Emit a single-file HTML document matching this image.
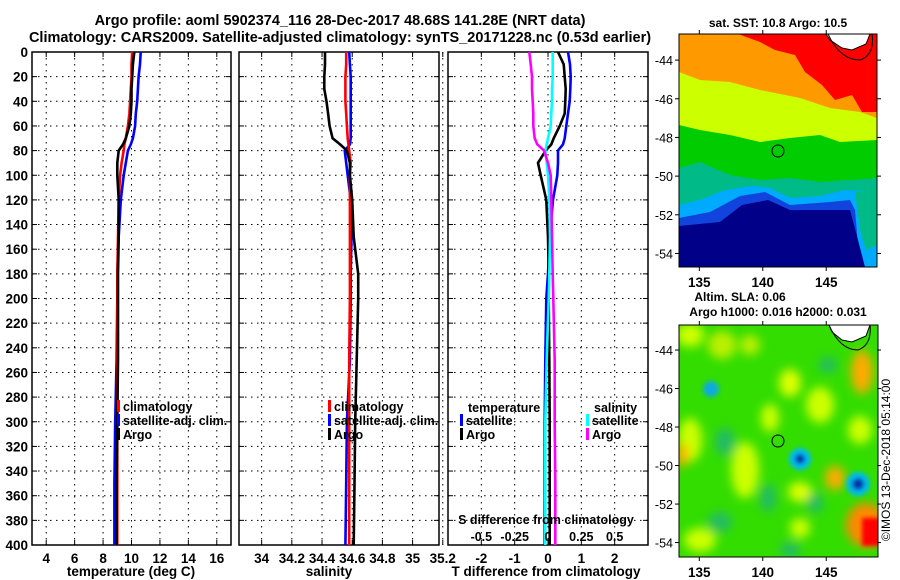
<!DOCTYPE html>
<html><head><meta charset="utf-8">
<style>
body{margin:0;background:#fff;}
svg{display:block;font-family:"Liberation Sans",sans-serif;font-weight:bold;}
</style></head>
<body>
<svg id="c" width="900" height="580" viewBox="0 0 900 580" xmlns="http://www.w3.org/2000/svg">
<defs>
<filter id="bl" x="-30%" y="-30%" width="160%" height="160%"><feGaussianBlur stdDeviation="5"/></filter>
<filter id="bl2"><feGaussianBlur stdDeviation="2"/></filter>
<clipPath id="m1c"><rect x="679" y="34" width="198" height="233"/></clipPath>
<clipPath id="m2c"><rect x="679" y="325" width="199" height="232"/></clipPath>
</defs>
<text x="340" y="25" font-size="14.5" text-anchor="middle">Argo profile: aoml 5902374_116 28-Dec-2017 48.68S 141.28E (NRT data)</text>
<text x="340" y="42" font-size="14.5" text-anchor="middle">Climatology: CARS2009. Satellite-adjusted climatology: synTS_20171228.nc (0.53d earlier)</text>

<g id="p1"></g>
<g id="p2"></g>
<g id="p3"></g>

<!-- SST map -->
<g>
<text x="778" y="27" font-size="12" text-anchor="middle">sat. SST: 10.8 Argo: 10.5</text>
<g clip-path="url(#m1c)">
<rect x="679" y="34" width="198" height="233" fill="#ff9900"/>
<polygon fill="#ff0000" points="738,34 877,34 877,112 862,112 852,95 835,100 822,85 805,72 795,55 775,50 760,42"/>
<polygon fill="#ccff00" points="679,72 700,80 730,82 760,90 800,98 830,108 860,112 877,118 877,267 679,267"/>
<polygon fill="#00cc00" points="679,125 700,130 730,135 760,142 790,138 820,135 840,142 877,140 877,267 679,267"/>
<polygon fill="#00bb88" points="679,168 700,162 730,175 760,180 790,178 820,182 850,180 877,178 877,267 679,267"/>
<polygon fill="#00aaff" points="679,205 700,200 725,190 752,186 770,188 790,198 820,196 845,190 877,192 877,267 679,267"/>
<polygon fill="#1144dd" points="679,218 710,212 740,196 765,192 790,205 830,202 850,200 855,210 860,267 679,267"/>
<polygon fill="#000088" points="679,226 720,222 742,205 768,200 790,210 830,210 850,210 858,240 865,267 679,267"/>
<polygon fill="#00bb88" points="855,192 877,190 877,245 866,250 860,230"/>
<polygon fill="#fff" stroke="#000" points="826,34 870,34 866,44 852,50 842,48 830,40"/>
<path d="M828,34 Q840,60 860,60 Q875,55 872,34" fill="none" stroke="#000" stroke-width="1"/>
</g>
<rect x="679" y="34" width="198" height="233" fill="none" stroke="#000"/>
<circle cx="778" cy="151" r="6" fill="none" stroke="#000"/>
</g>

<!-- SLA map -->
<g>
<text x="740" y="301" font-size="12" text-anchor="middle">Altim. SLA: 0.06</text>
<text x="778" y="316" font-size="12" text-anchor="middle">Argo h1000: 0.016 h2000: 0.031</text>
<g clip-path="url(#m2c)">
<rect x="679" y="325" width="199" height="232" fill="#33dd00"/>
<g filter="url(#bl)">
<ellipse cx="690" cy="335" rx="14" ry="12" fill="#ccff00"/>
<ellipse cx="722" cy="345" rx="14" ry="14" fill="#bbf000"/>
<ellipse cx="750" cy="345" rx="10" ry="10" fill="#bbf000"/>
<ellipse cx="790" cy="383" rx="11" ry="14" fill="#ddff00"/>
<ellipse cx="770" cy="418" rx="9" ry="14" fill="#ccff00"/>
<ellipse cx="745" cy="470" rx="14" ry="28" fill="#ccff00"/>
<ellipse cx="690" cy="440" rx="12" ry="22" fill="#ccff00"/>
<ellipse cx="682" cy="455" rx="6" ry="12" fill="#ffaa00"/>
<ellipse cx="700" cy="540" rx="16" ry="12" fill="#ccff00"/>
<ellipse cx="800" cy="492" rx="12" ry="10" fill="#ddff00"/>
<ellipse cx="800" cy="528" rx="10" ry="10" fill="#ccff00"/>
<ellipse cx="820" cy="405" rx="14" ry="18" fill="#ccff00"/>
<ellipse cx="862" cy="372" rx="11" ry="22" fill="#ffaa00"/>
<ellipse cx="835" cy="478" rx="10" ry="12" fill="#ffaa00"/>
<ellipse cx="860" cy="430" rx="12" ry="14" fill="#ccff00"/>
<ellipse cx="725" cy="442" rx="10" ry="14" fill="#22bb66"/>
<ellipse cx="768" cy="498" rx="8" ry="14" fill="#22bb66"/>
<ellipse cx="828" cy="365" rx="9" ry="8" fill="#22bb66"/>
<ellipse cx="720" cy="522" rx="12" ry="10" fill="#22bb66"/>
<ellipse cx="790" cy="550" rx="10" ry="8" fill="#22bb66"/>
<ellipse cx="815" cy="503" rx="8" ry="10" fill="#22bb66"/>
<ellipse cx="866" cy="525" rx="20" ry="22" fill="#ff8800"/>
</g>
<g filter="url(#bl2)">
<circle cx="711" cy="389" r="8" fill="#11aadd"/>
<circle cx="800" cy="459" r="11" fill="#00bbee"/>
<circle cx="800" cy="459" r="5" fill="#0033aa"/>
<circle cx="858" cy="484" r="12" fill="#00bbee"/>
<circle cx="858" cy="484" r="6" fill="#0033aa"/>
<rect x="862" y="518" width="18" height="28" fill="#ff0000"/>
</g>
<polygon fill="#fff" stroke="#000" points="829,325 870,325 866,336 852,342 842,340 832,332"/>
<path d="M829,325 Q840,350 858,350 Q872,345 870,325" fill="none" stroke="#000"/>
</g>
<rect x="679" y="325" width="199" height="232" fill="none" stroke="#000"/>
<circle cx="778" cy="441" r="6" fill="none" stroke="#000"/>
</g>
<text transform="translate(890,460) rotate(-90)" font-size="12" font-weight="normal" text-anchor="middle">©IMOS 13-Dec-2018 05:14:00</text>
</svg>
<script>
// ---- data ----
const depths = [0,10,20,30,40,50,60,70,75,80,90,100,120,150,180,200,250,300,350,400];
const tempArgo = [10.2,10.1,10.05,10.0,10.0,9.95,9.85,9.6,9.4,9.1,9.0,9.0,9.1,9.1,9.05,9.05,9.05,9.0,8.95,8.95];
const tempClim = [10.05,10.0,10.0,9.95,9.9,9.85,9.75,9.6,9.5,9.45,9.3,9.2,9.1,9.05,9.0,9.0,9.0,9.0,9.0,9.0];
const tempSat = [10.65,10.6,10.5,10.45,10.4,10.3,10.25,10.1,9.95,9.75,9.6,9.45,9.25,9.1,9.0,9.0,8.95,8.85,8.8,8.8];
const salArgo = [34.42,34.42,34.415,34.415,34.43,34.44,34.45,34.47,34.52,34.565,34.585,34.585,34.6,34.61,34.64,34.64,34.63,34.62,34.615,34.61];
const salClim = [34.56,34.56,34.555,34.555,34.555,34.56,34.565,34.57,34.575,34.58,34.59,34.585,34.585,34.585,34.585,34.585,34.58,34.58,34.58,34.58];
const salSat = [34.58,34.585,34.59,34.59,34.59,34.59,34.59,34.59,34.585,34.55,34.56,34.57,34.59,34.595,34.59,34.59,34.585,34.565,34.56,34.555];
const dTArgo = [0.3,0.47,0.5,0.53,0.52,0.5,0.35,0.17,0.1,-0.07,-0.3,-0.22,-0.05,0.0,0.02,0.02,0.04,0.05,0.05,0.05];
const dTSat = [0.6,0.66,0.68,0.67,0.65,0.6,0.55,0.5,0.45,0.3,0.3,0.28,0.15,0.05,0.0,-0.05,-0.08,-0.1,-0.1,-0.1];
const dSArgo = [-0.14,-0.13,-0.12,-0.12,-0.115,-0.11,-0.11,-0.1,-0.08,-0.03,0.0,0.02,0.025,0.03,0.035,0.04,0.05,0.05,0.055,0.055];
const dSSat = [0.035,0.035,0.035,0.03,0.03,0.025,0.02,0.0,-0.01,-0.02,-0.01,0.0,0.01,0.015,0.01,0.005,-0.01,-0.02,-0.02,-0.02];
const depthTicks = [0,20,40,60,80,100,120,140,160,180,200,220,240,260,280,300,320,340,360,380,400];
const tempTicks = [4,6,8,10,12,14,16];
const salTicks = [34,34.2,34.4,34.6,34.8,35,35.2];
const dTTicks = [-2,-1,0,1,2];
const dSTickLabels = ["-0.5","-0.25","0","0.25","0.5"];
const dSTicks = [-0.5,-0.25,0,0.25,0.5];
const sstLat = [-44,-46,-48,-50,-52,-54];
const slaLat = [-44,-46,-48,-50,-52,-54];
const lonTicks = [135,140,145];

const NS="http://www.w3.org/2000/svg";
const svg=document.getElementById('c');
function mk(parent,tag,attrs,txt){const e=document.createElementNS(NS,tag);for(const k in attrs)e.setAttribute(k,attrs[k]);if(txt!==undefined)e.textContent=txt;parent.appendChild(e);return e;}
const Y0=52,Y1=545;
function yScale(d){return Y0+(d/400)*(Y1-Y0);}

function panel(g,x0,x1,vmin,vmax,ticks,labels,showDepth){
  const xs=v=>x0+(v-vmin)/(vmax-vmin)*(x1-x0);
  depthTicks.forEach(d=>{
    const y=yScale(d);
    if(d>0&&d<400){const l=mk(g,'line',{x1:x0,x2:x1,y1:y,y2:y,stroke:'#000','stroke-width':1,'stroke-dasharray':'1.5,4.5'});
    
    }
    mk(g,'line',{x1:x0,x2:x0+5,y1:y,y2:y,stroke:'#000'});
    mk(g,'line',{x1:x1-5,x2:x1,y1:y,y2:y,stroke:'#000'});
    if(showDepth){const t=mk(g,'text',{x:x0-4,y:y+5,'font-size':13.5,'text-anchor':'end'},String(d));
    
    }
  });
  ticks.forEach((v,i)=>{
    const x=xs(v);
    const l=mk(g,'line',{x1:x,x2:x,y1:Y0,y2:Y1,stroke:'#000','stroke-width':1,'stroke-dasharray':'1.5,4.5'});
    
    
    mk(g,'line',{x1:x,x2:x,y1:Y1,y2:Y1-5,stroke:'#000'});
    mk(g,'line',{x1:x,x2:x,y1:Y0,y2:Y0+5,stroke:'#000'});
    const t=mk(g,'text',{x:x,y:Y1+18,'font-size':13.5,'text-anchor':'middle'},labels[i]);
    
    
  });
  const r=mk(g,'rect',{x:x0,y:Y0,width:x1-x0,height:Y1-Y0,fill:'none',stroke:'#000','stroke-width':1.5});
  
  
  return xs;
}
function line(g,xs,vals,color,name){
  const pts=vals.map((v,i)=>xs(v).toFixed(1)+','+yScale(depths[i]).toFixed(1)).join(' ');
  const p=mk(g,'polyline',{points:pts,fill:'none',stroke:color,'stroke-width':2.6,'stroke-linejoin':'miter'});
  
  
}
function legend(g,x,y,color,label){
  mk(g,'rect',{x:x,y:y-11,width:3,height:12,fill:color});
  const t=mk(g,'text',{x:x+6,y:y,'font-size':12.5},label);
  
  
}

// Panel 1 temperature
const g1=document.getElementById('p1');
const xs1=panel(g1,32,231,3,17,tempTicks,tempTicks.map(String),true);
line(g1,xs1,tempSat,'#0000ff','temp-satellite-line');
line(g1,xs1,tempClim,'#ff0000','temp-climatology-line');
line(g1,xs1,tempArgo,'#000000','temp-argo-line');
legend(g1,117,411,'#ff0000','climatology');
legend(g1,117,425,'#0000ff','satellite-adj. clim.');
legend(g1,117,439,'#000000','Argo');
let t=mk(g1,'text',{x:131,y:576,'font-size':13.5,'text-anchor':'middle'},'temperature (deg C)');



// Panel 2 salinity
const g2=document.getElementById('p2');
const xs2=panel(g2,239,439,33.85,35.175,salTicks,salTicks.map(String),false);
line(g2,xs2,salSat,'#0000ff','sal-satellite-line');
line(g2,xs2,salClim,'#ff0000','sal-climatology-line');
line(g2,xs2,salArgo,'#000000','sal-argo-line');
legend(g2,328,411,'#ff0000','climatology');
legend(g2,328,425,'#0000ff','satellite-adj. clim.');
legend(g2,328,439,'#000000','Argo');
t=mk(g2,'text',{x:329,y:576,'font-size':13.5,'text-anchor':'middle'},'salinity');



// Panel 3 differences
const g3=document.getElementById('p3');
const xs3=panel(g3,448,648,-3,3,dTTicks,dTTicks.map(String),false);
const xsS=v=>548+v*133.3;
line(g3,xs3,dTSat,'#0000ff','dT-satellite-line');
line(g3,xs3,dTArgo,'#000000','dT-argo-line');
line(g3,xsS,dSSat,'#00ffff','dS-satellite-line');
line(g3,xsS,dSArgo,'#ff00ff','dS-argo-line');
t=mk(g3,'text',{x:468,y:412,'font-size':12.5},'temperature');


t=mk(g3,'text',{x:594,y:412,'font-size':12.5},'salinity');


legend(g3,460,425,'#0000ff','satellite');
legend(g3,460,439,'#000000','Argo');
legend(g3,586,425,'#00ffff','satellite');
legend(g3,586,439,'#ff00ff','Argo');
t=mk(g3,'text',{x:546,y:524,'font-size':12.5,'text-anchor':'middle'},'S difference from climatology');


dSTicks.forEach((v,i)=>{
  const tt=mk(g3,'text',{x:xsS(v),y:541,'font-size':12.5,'text-anchor':'middle'},dSTickLabels[i]);
  
  
});
t=mk(g3,'text',{x:546,y:576,'font-size':13.5,'text-anchor':'middle'},'T difference from climatology');



// Map axes
function mapAxes(yTop,yBot,latTop,latBot,lats,lonLabels){
  const ys=l=>yTop+(latTop-l)/(latTop-latBot)*(yBot-yTop);
  const xs=l=>679+(l-133.4)/(149.0-133.4)*198;
  lats.forEach(l=>{
    const y=ys(l);
    mk(svg,'line',{x1:679,x2:675,y1:y,y2:y,stroke:'#000'});
    mk(svg,'line',{x1:877,x2:881,y1:y,y2:y,stroke:'#000'});
    const tt=mk(svg,'text',{x:673,y:y+5,'font-size':12.5,'text-anchor':'end','font-weight':'normal'},String(l));
    
    
  });
  lonTicks.forEach(l=>{
    const x=xs(l);
    mk(svg,'line',{x1:x,x2:x,y1:yTop,y2:yTop-4,stroke:'#000'});
    mk(svg,'line',{x1:x,x2:x,y1:yBot,y2:yBot+4,stroke:'#000'});
    if(lonLabels){const tt=mk(svg,'text',{x:x,y:yBot+20,'font-size':13.5,'text-anchor':'middle'},String(l));
    
    }
  });
}
mapAxes(34,267,-42.65,-54.7,sstLat,true);
mapAxes(325,557,-42.7,-54.75,slaLat,true);
</script>
</body></html>
